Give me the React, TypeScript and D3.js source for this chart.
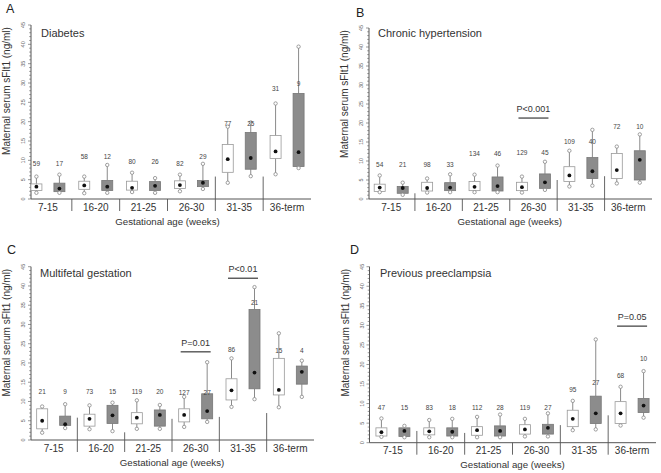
import React from "react";
import * as d3 from "d3";

const W = 661;
const H = 473;
const FONT = "'Liberation Sans', Arial, sans-serif";

const GROUPS = ["7-15", "16-20", "21-25", "26-30", "31-35", "36-term"];

// [lower whisker, Q1, median, Q3, upper whisker] in ng/ml
type Box = [number, number, number, number, number];

// A: Diabetes
const A_CTRL: Box[] = [
  [1.6, 2.2, 3.2, 3.9, 5.8], [1.5, 2.5, 3.5, 4.6, 5.8], [1.8, 2.3, 2.9, 4.6, 6.8],
  [2.0, 2.7, 3.6, 4.7, 6.3], [4.2, 6.9, 10.3, 14.1, 18.7], [6.4, 10.5, 12.3, 16.4, 24.7],
];
const A_CASE: Box[] = [
  [1.6, 1.9, 2.7, 4.1, 6.3], [1.6, 2.2, 3.2, 4.8, 8.8], [1.6, 2.2, 3.4, 4.5, 5.4],
  [2.6, 3.2, 4.2, 4.8, 9.1], [5.9, 7.7, 10.6, 17.2, 19.8], [8.0, 8.4, 12.1, 27.3, 39.4],
];
const A_N_CTRL = [59, 58, 80, 82, 77, 31];
const A_N_CASE = [17, 12, 26, 29, 25, 9];
const A_NY_CTRL = [9.2, 10.9, 9.7, 9.1, 19.4, 28.4];
const A_NY_CASE = [9.1, 10.9, 9.7, 10.9, 19.4, 29.7];

// B: Chronic hypertension
const B_CTRL: Box[] = [
  [1.8, 2.0, 3.0, 3.9, 6.2], [1.7, 2.1, 2.9, 4.4, 5.4], [1.8, 2.2, 3.2, 4.6, 6.4],
  [1.7, 2.2, 3.1, 4.4, 5.9], [3.3, 4.6, 6.2, 8.5, 12.7], [4.1, 5.4, 7.6, 12.0, 13.8],
];
const B_CASE: Box[] = [
  [1.1, 1.5, 2.9, 3.3, 4.3], [1.8, 2.2, 3.0, 4.3, 6.5], [1.8, 2.1, 3.4, 5.8, 8.8],
  [2.4, 2.8, 4.4, 6.6, 9.8], [3.5, 5.4, 7.3, 10.9, 18.2], [4.3, 5.0, 10.3, 12.7, 17.0],
];
const B_N_CTRL = [54, 98, 134, 129, 109, 72];
const B_N_CASE = [21, 33, 46, 45, 40, 10];
const B_NY_CTRL = [9.1, 9.1, 11.8, 12.2, 15.1, 19.1];
const B_NY_CASE = [9.1, 9.1, 11.8, 12.2, 15.1, 19.1];

// C: Multifetal gestation
const C_CTRL: Box[] = [
  [1.9, 2.9, 5.0, 8.1, 8.7], [2.8, 3.6, 5.5, 6.7, 9.0], [2.9, 4.2, 5.8, 7.1, 10.3],
  [3.4, 4.7, 6.5, 8.1, 11.2], [8.6, 10.4, 12.9, 15.9, 21.2], [8.5, 11.7, 13.0, 21.2, 27.7],
];
const C_CASE: Box[] = [
  [3.1, 3.8, 4.1, 6.2, 9.3], [2.3, 4.3, 6.4, 9.0, 9.7], [2.9, 3.6, 6.5, 7.8, 9.1],
  [4.7, 5.5, 7.5, 12.0, 20.2], [10.6, 13.3, 17.5, 33.9, 39.7], [11.2, 14.5, 17.7, 19.2, 20.6],
];
const C_N_CTRL = [21, 73, 119, 127, 86, 15];
const C_N_CASE = [9, 15, 20, 27, 21, 4];
const C_NY_CTRL = [12.5, 12.5, 12.5, 12.3, 23.5, 23.1];
const C_NY_CASE = [12.5, 12.5, 12.5, 12.3, 35.6, 23.1];

// D: Previous preeclampsia
const D_CTRL: Box[] = [
  [1.5, 1.7, 2.7, 3.8, 6.2], [1.4, 2.0, 2.9, 3.8, 5.8], [1.4, 1.9, 3.2, 4.1, 6.6],
  [1.6, 2.2, 3.4, 4.6, 6.1], [3.2, 4.1, 6.1, 8.3, 10.7], [4.4, 4.9, 7.5, 10.5, 14.3],
];
const D_CASE: Box[] = [
  [1.4, 1.6, 3.0, 3.8, 4.3], [1.4, 1.7, 2.8, 3.8, 6.1], [1.4, 1.7, 3.0, 4.3, 7.2],
  [1.6, 2.2, 3.8, 4.7, 7.5], [3.4, 4.9, 7.5, 11.9, 26.4], [6.4, 7.7, 9.5, 11.3, 18.3],
];
const D_N_CTRL = [47, 83, 112, 119, 95, 68];
const D_N_CASE = [15, 18, 28, 27, 27, 10];
const D_NY_CTRL = [9, 9, 9, 9, 13.5, 17.2];
const D_NY_CASE = [9, 9, 9, 9, 15.3, 21.5];

type PNote = { group: string; label: string; value: number };
const B_P: PNote[] = [{ group: "26-30", label: "P<0.001", value: 21.3 }];
const C_P: PNote[] = [
  { group: "26-30", label: "P=0.01", value: 22.9 },
  { group: "31-35", label: "P<0.01", value: 42 },
];
const D_P: PNote[] = [{ group: "36-term", label: "P=0.05", value: 29.8 }];

type PanelDef = {
  letter: string; title: string;
  ctrl: Box[]; cas: Box[];
  nCtrl: number[]; nCase: number[]; nyCtrl: number[]; nyCase: number[];
  notes: PNote[];
  axisX: number; bandL: number; bandR: number; yTop: number; yBot: number;
  letterXY: [number, number]; titleXY: [number, number];
  divTop: number[]; // how far (in ng/ml) each divider reaches above the axis
};

const PANELS: PanelDef[] = [
  {
    letter: "A", title: "Diabetes", ctrl: A_CTRL, cas: A_CASE,
    nCtrl: A_N_CTRL, nCase: A_N_CASE, nyCtrl: A_NY_CTRL, nyCase: A_NY_CASE, notes: [],
    axisX: 31, bandL: 24, bandR: 311, yTop: 25, yBot: 199,
    letterXY: [6, 13], titleXY: [41, 37], divTop: [0, 0, 0, 5.8, 5.8],
  },
  {
    letter: "B", title: "Chronic hypertension", ctrl: B_CTRL, cas: B_CASE,
    nCtrl: B_N_CTRL, nCase: B_N_CASE, nyCtrl: B_NY_CTRL, nyCase: B_NY_CASE, notes: B_P,
    axisX: 369, bandL: 367.5, bandR: 652, yTop: 28, yBot: 199,
    letterXY: [356, 17], titleXY: [378, 37], divTop: [1.5, 0, 0, 5, 6],
  },
  {
    letter: "C", title: "Multifetal gestation", ctrl: C_CTRL, cas: C_CASE,
    nCtrl: C_N_CTRL, nCase: C_N_CASE, nyCtrl: C_NY_CTRL, nyCase: C_NY_CASE, notes: C_P,
    axisX: 31, bandL: 30, bandR: 314, yTop: 266.7, yBot: 440,
    letterXY: [7, 254], titleXY: [40, 277], divTop: [5.8, 2, 5.5, 6, 7],
  },
  {
    letter: "D", title: "Previous preeclampsia", ctrl: D_CTRL, cas: D_CASE,
    nCtrl: D_N_CTRL, nCase: D_N_CASE, nyCtrl: D_NY_CTRL, nyCase: D_NY_CASE, notes: D_P,
    axisX: 369.5, bandL: 369, bandR: 656, yTop: 266.7, yBot: 442.7,
    letterXY: [350, 254], titleXY: [380, 277], divTop: [3, 2.5, 0, 4.5, 7],
  },
];

const BOX_W = 11;
const OFF = 11.5;
const AXIS_C = "#555";
const WHISK_C = "#8a8a8a";

function BoxMark({ cx, b, y, dark }: { cx: number; b: Box; y: d3.ScaleLinear<number, number>; dark: boolean }) {
  const [lo, q1, med, q3, hi] = b;
  return (
    <g>
      <line x1={cx} x2={cx} y1={y(hi)} y2={y(q3)} stroke={WHISK_C} strokeWidth={1} />
      <line x1={cx} x2={cx} y1={y(q1)} y2={y(lo)} stroke={WHISK_C} strokeWidth={1} />
      <rect x={cx - BOX_W / 2} y={y(q3)} width={BOX_W} height={Math.max(0.5, y(q1) - y(q3))}
        fill={dark ? "#8c8c8c" : "#fff"} stroke={dark ? "#777" : "#999"} strokeWidth={0.8} />
      <circle cx={cx} cy={y(hi)} r={1.7} fill="#fff" stroke="#888" strokeWidth={0.8} />
      <circle cx={cx} cy={y(lo)} r={1.7} fill="#fff" stroke="#888" strokeWidth={0.8} />
      <circle cx={cx} cy={y(med)} r={1.9} fill="#111" />
    </g>
  );
}

function Panel({ p }: { p: PanelDef }) {
  const y = d3.scaleLinear().domain([0, 45]).range([p.yBot, p.yTop]);
  const x = d3.scaleBand<string>().domain(GROUPS).range([p.bandL, p.bandR]).padding(0);
  const bw = x.bandwidth();
  const minor = d3.range(0, 46, 1);
  const major = d3.range(0, 46, 5);
  const axisY = y(0);
  const plotMid = (p.bandL + p.bandR) / 2;
  return (
    <g fontFamily={FONT}>
      <text x={p.letterXY[0]} y={p.letterXY[1]} fontSize={12.5} fill="#222">{p.letter}</text>
      <text x={p.titleXY[0]} y={p.titleXY[1]} fontSize={11} fill="#333">{p.title}</text>
      {/* y axis */}
      <line x1={p.axisX} x2={p.axisX} y1={y(45)} y2={axisY} stroke={AXIS_C} strokeWidth={1} />
      {minor.map((v) => (
        <line key={"mi" + v} x1={p.axisX - (v % 5 === 0 ? 3 : 1.8)} x2={p.axisX} y1={y(v)} y2={y(v)}
          stroke={AXIS_C} strokeWidth={0.6} />
      ))}
      {major.map((v) => (
        <text key={"ma" + v} transform={`translate(${p.axisX - 6},${y(v)}) rotate(-90)`}
          textAnchor="middle" fontSize={5.5} fill="#666">{v}</text>
      ))}
      <text transform={`translate(${p.axisX - 21},${y(45) + 66}) rotate(-90)`} textAnchor="middle"
        fontSize={10} fill="#333">Maternal serum sFlt1 (ng/ml)</text>
      {/* x axis */}
      <line x1={p.axisX} x2={p.bandR} y1={axisY} y2={axisY} stroke={AXIS_C} strokeWidth={1} />
      {GROUPS.slice(1).map((g, i) => (
        <line key={"d" + g} x1={x(g)!} x2={x(g)!} y1={y(p.divTop[i])} y2={axisY + 12}
          stroke={AXIS_C} strokeWidth={0.9} />
      ))}
      {GROUPS.map((g) => (
        <text key={"gl" + g} x={x(g)! + bw / 2} y={axisY + 11.5} textAnchor="middle" fontSize={10} fill="#333">{g}</text>
      ))}
      <text x={plotMid} y={axisY + 25.5} textAnchor="middle" fontSize={9.7} fill="#333">Gestational age (weeks)</text>
      {/* boxes */}
      {GROUPS.map((g, i) => {
        const c = x(g)! + bw / 2;
        return (
          <g key={"b" + g}>
            <BoxMark cx={c - OFF} b={p.ctrl[i]} y={y} dark={false} />
            <BoxMark cx={c + OFF} b={p.cas[i]} y={y} dark={true} />
            <text x={c - OFF} y={y(p.nyCtrl[i])} dy="0.35em" textAnchor="middle" fontSize={6.5} fill="#444">{p.nCtrl[i]}</text>
            <text x={c + OFF} y={y(p.nyCase[i])} dy="0.35em" textAnchor="middle" fontSize={6.5} fill="#444">{p.nCase[i]}</text>
          </g>
        );
      })}
      {/* significance notes */}
      {p.notes.map((n) => {
        const c = x(n.group)! + bw / 2;
        return (
          <g key={"p" + n.label + n.group}>
            <line x1={c - 15} x2={c + 15} y1={y(n.value)} y2={y(n.value)} stroke="#555" strokeWidth={1.4} />
            <text x={c} y={y(n.value) - 6} textAnchor="middle" fontSize={9} fill="#333">{n.label}</text>
          </g>
        );
      })}
    </g>
  );
}

export default function App() {
  return (
    <svg width={W} height={H} style={{ position: "absolute", left: 0, top: 0, background: "#fff" }}>
      <rect width={W} height={H} fill="#fff" />
      {PANELS.map((p) => <Panel key={p.letter} p={p} />)}
    </svg>
  );
}
